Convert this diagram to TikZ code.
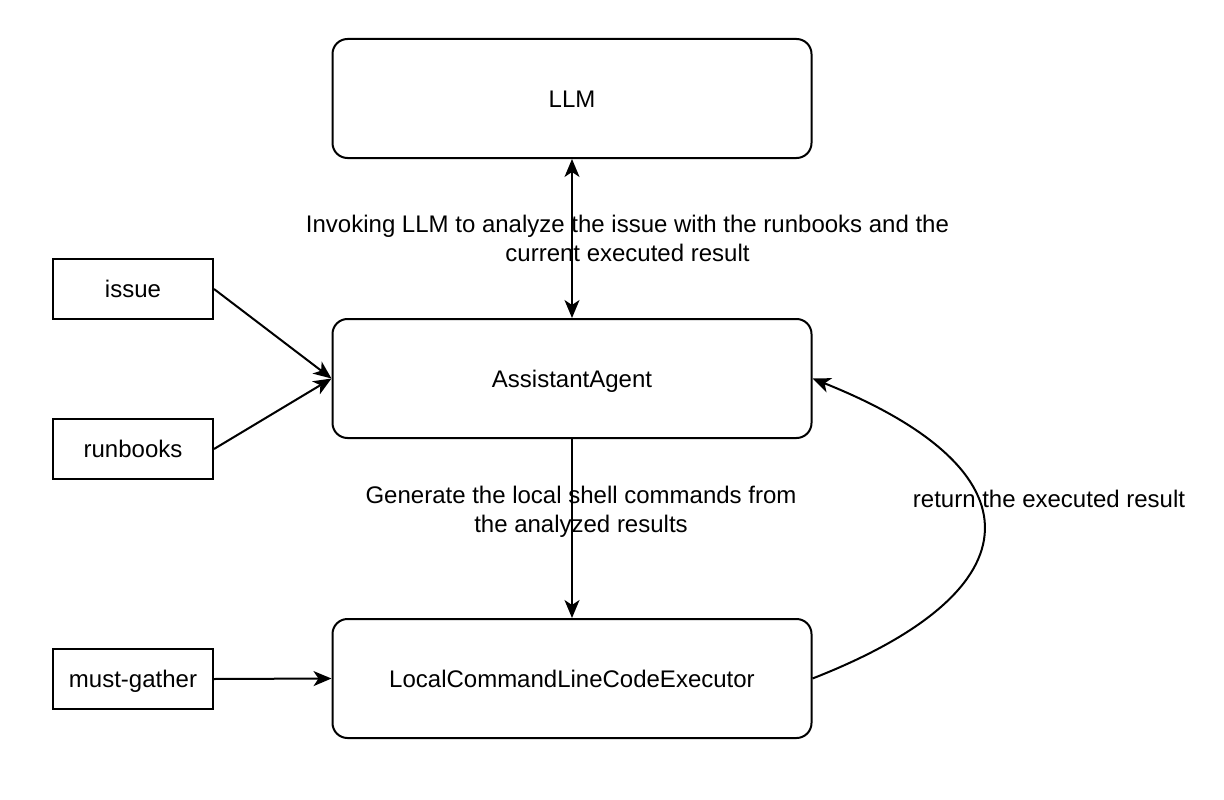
\documentclass[tikz,border=0pt]{standalone}
\usepackage{fontspec}
\setmainfont{Liberation Sans}
\usetikzlibrary{arrows.meta}
\begin{document}
\begin{tikzpicture}[x=1pt,y=-1pt,
  every node/.style={font=\fontsize{24}{29}\selectfont},
  bigbox/.style={draw,line width=2pt,rounded corners=15pt,minimum width=479pt,minimum height=119pt,inner sep=0pt,text height=22pt,text depth=5pt},
  smallbox/.style={draw,line width=2pt,minimum width=160pt,minimum height=60pt,inner sep=0pt,text height=22pt,text depth=5pt},
  arr/.style={line width=2pt,-{Stealth[length=18pt,width=15pt,inset=5pt]}},
  dblarr/.style={line width=2pt,{Stealth[length=18pt,width=15pt,inset=5pt]}-{Stealth[length=18pt,width=15pt,inset=5pt]}},
  lbl/.style={align=center,inner sep=0pt}]
\useasboundingbox (0,0) rectangle (1224,800);
\node[bigbox] (llm) at (572,98.5) {LLM};
\node[bigbox] (agent) at (572,378.5) {AssistantAgent};
\node[bigbox] (exec) at (572,678.5) {LocalCommandLineCodeExecutor};
\node[smallbox] (issue) at (133,289) {issue};
\node[smallbox] (runbooks) at (133,449) {runbooks};
\node[smallbox] (mg) at (133,679) {must-gather};
\draw[dblarr] (llm.south) -- (agent.north);
\draw[arr] (issue.east) -- (agent.west);
\draw[arr] (runbooks.east) -- (agent.west);
\draw[arr] (agent.south) -- (exec.north);
\draw[arr] (mg.east) -- (exec.west);
\draw[arr] (exec.east) .. controls +(228,-89) and +(228,91) .. (agent.east);
\node[lbl] (l1) at (627.5,238) {Invoking LLM to analyze the issue with the runbooks and the\\current executed result};
\node[lbl] (l2) at (581,512) {Generate the local shell commands from\\the analyzed results};
\node[lbl] (l3) at (1049,499) {return the executed result};
\end{tikzpicture}
\end{document}
